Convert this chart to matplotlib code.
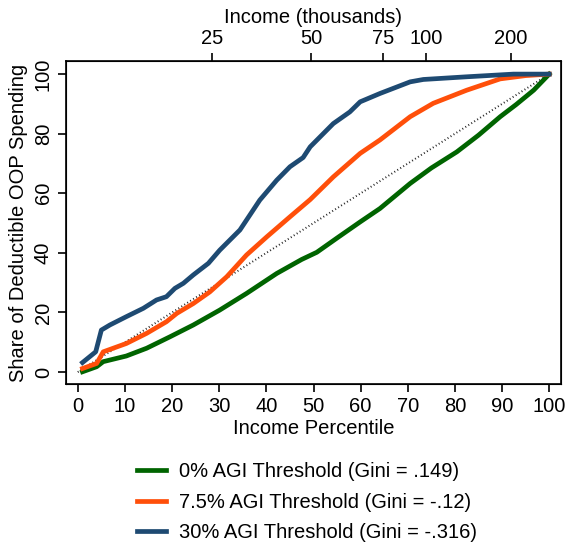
import numpy as np
import matplotlib
matplotlib.use("Agg")
import matplotlib.pyplot as plt

plt.rcParams['font.family'] = ['Liberation Sans', 'DejaVu Sans']

# percentile / share points
pct_0 = [1, 4, 5.4, 10.3, 14.6, 19.5, 24.5, 30.1, 35.8, 42.2, 47.5, 50.7,
         55, 59.9, 64.1, 70.5, 75, 80.4, 85, 89.6, 93, 96.7, 100]
share_0 = [0.1, 1.8, 3.5, 5.4, 8.0, 11.8, 15.8, 20.8, 26.4, 33.1, 37.8, 40.2,
           45.0, 50.4, 54.9, 63.3, 68.5, 73.9, 79.5, 85.7, 89.8, 94.6, 100]

pct_75 = [1, 4, 5.4, 10.3, 14.6, 18.8, 21.0, 24.5, 28.0, 31.6, 35.8, 40.1,
          45.0, 49.3, 54.2, 59.9, 64.1, 70.5, 75.4, 82.5, 89.6, 95, 100]
share_75 = [1.2, 2.9, 6.8, 9.6, 13.0, 16.9, 19.7, 23.0, 26.9, 32.0, 39.3, 45.4,
            52.1, 57.9, 65.5, 73.4, 77.9, 85.7, 90.2, 94.6, 98.4, 99.5, 100]

pct_30 = [1, 3.8, 5.0, 6.8, 10.3, 13.9, 16.7, 18.8, 20.6, 22.4, 24.5, 27.7,
          30.1, 34.4, 38.6, 42.2, 45.0, 47.8, 49.3, 54.2, 57.7, 59.9, 64.1,
          70.5, 73.3, 82.5, 92.4, 100]
share_30 = [3.2, 6.8, 14.1, 15.8, 18.6, 21.4, 24.2, 25.3, 28.1, 29.8, 32.6, 36.5,
            40.9, 47.7, 57.7, 64.4, 68.9, 72.0, 75.6, 83.4, 87.3, 90.7, 93.5,
            97.4, 98.2, 99.1, 100, 100]

labels = ['0% AGI Threshold (Gini = .149)',
          '7.5% AGI Threshold (Gini = -.12)',
          '30% AGI Threshold (Gini = -.316)']
colors = ['#006400', '#FF4F0A', '#1E4A72']

# top axis: income (thousands) at percentile positions
income_pos = [28.5, 49.5, 64.8, 73.9, 91.9]
income_lab = ['25', '50', '75', '100', '200']

fs = 14.5

fig = plt.figure(figsize=(5.65, 5.47), dpi=100)
ax = fig.add_axes([66/565, 1 - 384/547, (561 - 66)/565, (384 - 61)/547])

ax.plot([0, 100], [0, 100], color='#222222', lw=1.4, linestyle=(0, (0.5, 1.3)))
lines = []
for x, y, c in [(pct_0, share_0, colors[0]), (pct_75, share_75, colors[1]),
                (pct_30, share_30, colors[2])]:
    l, = ax.plot(x, y, color=c, lw=3.4, solid_joinstyle='round')
    lines.append(l)

ax.set_xlim(-2.5, 102.5)
ax.set_ylim(-4, 104.4)
ax.set_xticks(np.arange(0, 101, 10))
ax.set_yticks(np.arange(0, 101, 20))
ax.tick_params(labelsize=fs, width=1.2, length=6)
ax.tick_params(axis='y', labelrotation=90)
for lab in ax.get_yticklabels():
    lab.set_va('center')
ax.set_xlabel('Income Percentile', fontsize=fs, labelpad=2)
ax.set_ylabel('Share of Deductible OOP Spending', fontsize=fs, labelpad=4)
for s in ax.spines.values():
    s.set_linewidth(1.2)

top = ax.twiny()
top.set_xlim(ax.get_xlim())
top.set_xticks(income_pos)
top.set_xticklabels(income_lab)
top.tick_params(labelsize=fs, width=1.2, length=6)
top.set_xlabel('Income (thousands)', fontsize=fs, labelpad=4)

fig.legend(lines, labels, loc='upper left', bbox_to_anchor=(127/565, 1 - 452/547),
           frameon=False, fontsize=fs, handlelength=1.45, handletextpad=0.65,
           labelspacing=0.58, borderpad=0)

fig.savefig('out.png', dpi=100)
